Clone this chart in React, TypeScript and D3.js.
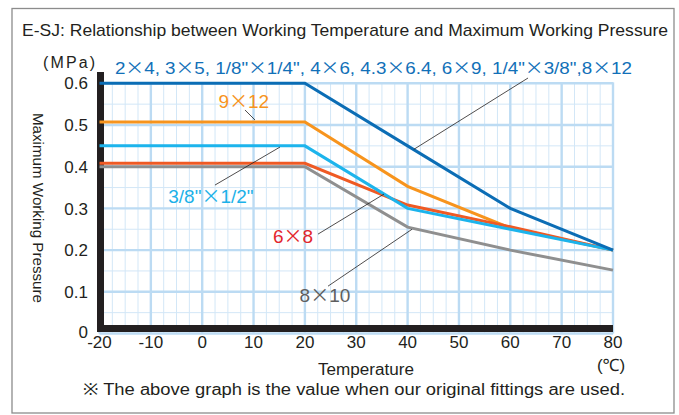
import React from 'react';
import * as d3 from 'd3';

// Temperature breakpoints (°C) shared by every curve
const temps = [-20, 20, 40, 60, 80];

// Maximum working pressure (MPa) at each breakpoint
const pressureBlue = [0.6, 0.6, 0.45, 0.3, 0.2];
const pressureOrange = [0.507, 0.507, 0.353, 0.253, 0.2];
const pressureCyan = [0.45, 0.45, 0.3, 0.25, 0.2];
const pressureRed = [0.408, 0.408, 0.308, 0.256, 0.2];
const pressureGray = [0.4, 0.4, 0.255, 0.2, 0.152];

const sizeBlue = '2×4, 3×5, 1/8"×1/4", 4×6, 4.3×6.4, 6×9, 1/4"×3/8",8×12';
const sizeOrange = '9×12';
const sizeCyan = '3/8"×1/2"';
const sizeRed = '6×8';
const sizeGray = '8×10';

const xTicks = [-20, -10, 0, 10, 20, 30, 40, 50, 60, 70, 80];
const yTicks = [0, 0.1, 0.2, 0.3, 0.4, 0.5, 0.6];
const yTickLabels = ['0', '0.1', '0.2', '0.3', '0.4', '0.5', '0.6'];

const titleText = 'E-SJ: Relationship between Working Temperature and Maximum Working Pressure';
const footnoteText = '※ The above graph is the value when our original fittings are used.';

const W = 679;
const H = 415;
const FONT = '"Liberation Sans", Arial, "Noto Sans", sans-serif';
const CJK = '"Noto Sans CJK JP", "Noto Sans CJK SC", sans-serif';
const INK = '#231f20';

const x = d3.scaleLinear().domain([-20, 80]).range([99.5, 613]);
const y = d3.scaleLinear().domain([0, 0.6]).range([333.5, 83.3]);

type Series = { name: string; values: number[]; color: string; width: number };

// Drawn bottom to top
const series: Series[] = [
  { name: sizeGray, values: pressureGray, color: '#8f8f8f', width: 3 },
  { name: sizeOrange, values: pressureOrange, color: '#f7941d', width: 3 },
  { name: sizeRed, values: pressureRed, color: '#ef5a24', width: 3 },
  { name: sizeCyan, values: pressureCyan, color: '#1cb4ec', width: 3 },
  { name: sizeBlue, values: pressureBlue, color: '#0b6db5', width: 3 },
];

// Callout labels and leader lines, in data units (temperature, pressure)
type Callout = {
  text: string;
  color: string;
  tx: number;
  tv: number;
  anchor: 'start' | 'middle';
  size: number;
  length?: number;
  leader: [number, number, number, number];
};

const callouts: Callout[] = [
  { text: sizeBlue, color: '#1170b8', tx: -17, tv: 0.6235, anchor: 'start', size: 17, length: 517, leader: [63.45, 0.6127, 41.2, 0.4415] },
  { text: sizeOrange, color: '#f7941d', tx: 8.1, tv: 0.541, anchor: 'middle', size: 19, leader: [8.33, 0.536, 10.28, 0.512] },
  { text: sizeCyan, color: '#1cb1e8', tx: 1.7, tv: 0.3127, anchor: 'middle', size: 19, leader: [15.15, 0.4471, 2.49, 0.356] },
  { text: sizeRed, color: '#e3262d', tx: 17.7, tv: 0.2167, anchor: 'middle', size: 19, leader: [22.55, 0.2383, 35.4, 0.3343] },
  { text: sizeGray, color: '#5e5e5e', tx: 23.9, tv: 0.0751, anchor: 'middle', size: 19, leader: [24.5, 0.1135, 40.86, 0.25] },
];

const minorX = d3.range(-20, 80.001, 2.5);
const minorY = d3.range(0, 0.6001, 0.05);

// Size labels use a full-width multiplication sign
function sizeParts(text: string) {
  const parts = text.split('×');
  const out: React.ReactNode[] = [];
  parts.forEach((p, i) => {
    if (i > 0)
      out.push(
        <tspan key={'m' + i} fontFamily={CJK}>
          ×
        </tspan>
      );
    out.push(<tspan key={'p' + i}>{p}</tspan>);
  });
  return out;
}

export default function App() {
  const line = d3
    .line<[number, number]>()
    .x((d) => x(d[0]))
    .y((d) => y(d[1]));

  const left = x(-20);
  const right = x(80);
  const top = y(0.6);
  const bottom = y(0);

  return (
    <svg
      width={W}
      height={H}
      viewBox={`0 0 ${W} ${H}`}
      style={{ position: 'absolute', left: 0, top: 0, background: '#fff', fontFamily: FONT }}
    >
      {/* frame */}
      <rect x={12} y={8.5} width={662} height={404.5} fill="#fff" stroke="#8c8c8c" strokeWidth={1.3} />

      <text x={22} y={36} fontSize={17} fill={INK} textLength={646} lengthAdjust="spacingAndGlyphs">
        {titleText}
      </text>

      {/* minor grid */}
      <g stroke="#d3e7f7" strokeWidth={1}>
        {minorX.map((t) => (
          <line key={'mx' + t} x1={x(t)} x2={x(t)} y1={top} y2={bottom} />
        ))}
        {minorY.map((v) => (
          <line key={'my' + v} x1={left} x2={right} y1={y(v)} y2={y(v)} />
        ))}
      </g>
      {/* major grid */}
      <g stroke="#bcdbf3" strokeWidth={2.4}>
        {xTicks.map((t) => (
          <line key={'gx' + t} x1={x(t)} x2={x(t)} y1={top - 1} y2={bottom} />
        ))}
        {yTicks.map((v) => (
          <line key={'gy' + v} x1={left} x2={right} y1={y(v)} y2={y(v)} />
        ))}
      </g>

      {/* axis bars */}
      <rect x={left - 2.5} y={72} width={7} height={bottom - 1.5 - 72} fill={INK} />
      <rect x={left - 2.5} y={bottom - 8.5} width={right - left + 2.5} height={7} fill={INK} />

      {/* curves */}
      {series.map((s) => (
        <path
          key={s.name}
          d={line(temps.map((t, i) => [t, s.values[i]]) as [number, number][]) || ''}
          fill="none"
          stroke={s.color}
          strokeWidth={s.width}
          strokeLinejoin="miter"
        />
      ))}

      {/* callouts */}
      {callouts.map((c) => (
        <g key={c.text}>
          <line
            x1={x(c.leader[0])}
            y1={y(c.leader[1])}
            x2={x(c.leader[2])}
            y2={y(c.leader[3])}
            stroke={INK}
            strokeWidth={0.8}
          />
          <text
            x={x(c.tx)}
            y={y(c.tv)}
            fontSize={c.size}
            fill={c.color}
            textAnchor={c.anchor}
            textLength={c.length}
            lengthAdjust={c.length ? 'spacingAndGlyphs' : undefined}
          >
            {sizeParts(c.text)}
          </text>
        </g>
      ))}

      {/* y ticks */}
      {yTicks.map((v, i) => (
        <text
          key={'yt' + v}
          x={88}
          y={v === 0 ? bottom - 1.5 : y(v)}
          dy="0.36em"
          fontSize={17}
          fill={INK}
          textAnchor="end"
        >
          {yTickLabels[i]}
        </text>
      ))}
      <text x={43} y={68} fontSize={16} fill={INK} textLength={52} lengthAdjust="spacing">
        (MPa)
      </text>
      <text
        transform="translate(38,208) rotate(90)"
        fontSize={14.5}
        fill={INK}
        textAnchor="middle"
        dy="0.36em"
        textLength={190}
        lengthAdjust="spacingAndGlyphs"
      >
        Maximum Working Pressure
      </text>

      {/* x ticks */}
      {xTicks.map((t) => (
        <text key={'xt' + t} x={x(t)} y={348} fontSize={17} fill={INK} textAnchor="middle">
          {t}
        </text>
      ))}
      <text x={611} y={371} fontSize={17} fill={INK} textAnchor="middle">
        (℃)
      </text>
      <text x={318} y={375} fontSize={16} fill={INK} textLength={96} lengthAdjust="spacingAndGlyphs">
        Temperature
      </text>

      <text x={83} y={395} fontSize={16} fill={INK} textLength={542} lengthAdjust="spacingAndGlyphs">
        {footnoteText}
      </text>
    </svg>
  );
}
